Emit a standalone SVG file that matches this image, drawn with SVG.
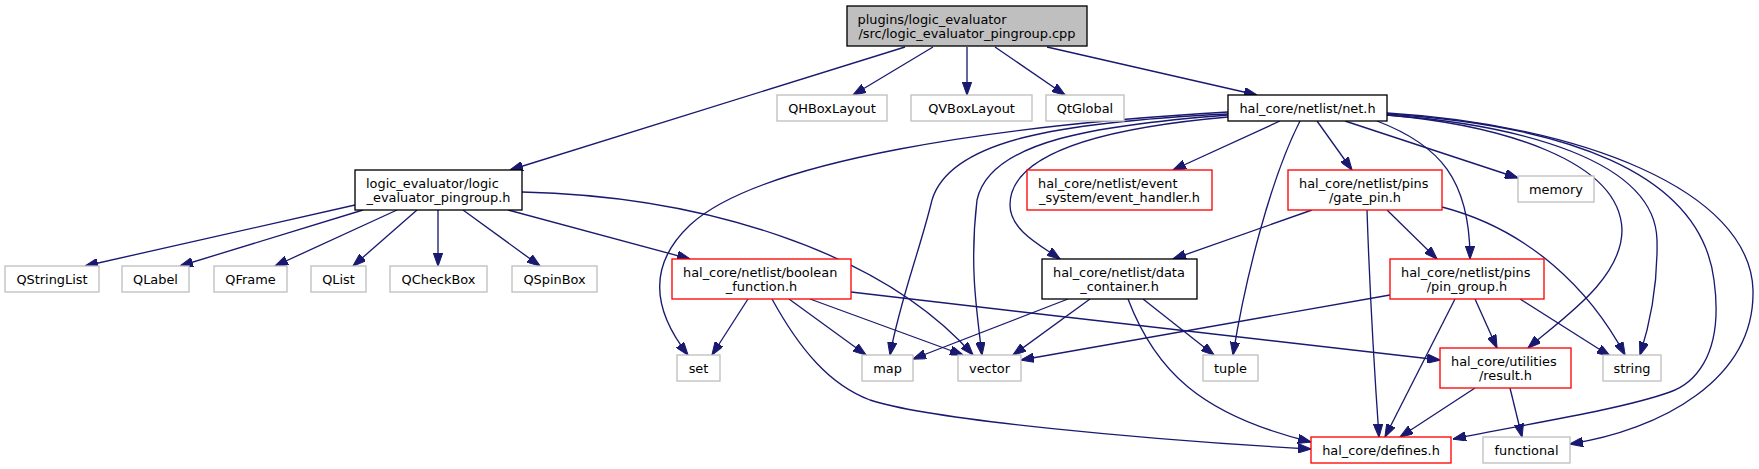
<svg xmlns="http://www.w3.org/2000/svg" width="1759" height="469" viewBox="0 0 1759 469">
<style>
rect{fill:#fff;stroke-width:1.33}
.k{stroke:#000}
.r{stroke:#ff0000}
.g{stroke:#bfbfbf}
.root{fill:#bfbfbf;stroke:#000}
text{font-family:"DejaVu Sans","Liberation Sans",sans-serif;font-size:12.9px;fill:#000}
.m{text-anchor:middle}
#edges path{fill:none;stroke:#191970;stroke-width:1.33;marker-end:url(#ah)}
</style>
<defs>
<marker id="ah" viewBox="0 0 13.3 9.4" refX="13" refY="4.7" markerWidth="13.3" markerHeight="9.4" markerUnits="userSpaceOnUse" orient="auto">
<path d="M0,0 L13.3,4.7 L0,9.4 Z" fill="#191970" stroke="#191970" stroke-width="1"/>
</marker>
</defs>
<rect width="1759" height="469" style="fill:#fff;stroke:none"/>
<g id="edges">
<path d="M905,47 L510,170"/>
<path d="M933,47 L853,95"/>
<path d="M967,47 L967,95"/>
<path d="M995,47 L1065,95"/>
<path d="M1047,47 L1257,95"/>
<path d="M355,205 L85,266"/>
<path d="M363,210 L180,266"/>
<path d="M397,210 L275,266"/>
<path d="M417,210 L353,266"/>
<path d="M438,210 L438,266"/>
<path d="M463,210 L540,266"/>
<path d="M508,210 L690,259"/>
<path d="M522,192 C700,196 880,250 973,355"/>
<path d="M1228,112 C1000,125 760,160 690,225 C655,258 645,300 688,355"/>
<path d="M1228,114 C1060,122 950,140 932,200 C920,250 900,300 890,355"/>
<path d="M1228,115 C1100,125 990,140 977,200 C970,260 975,300 982,355"/>
<path d="M1228,117 C1080,130 1010,160 1010,205 C1010,230 1040,245 1060,259"/>
<path d="M1280,121 L1173,170"/>
<path d="M1317,121 L1352,170"/>
<path d="M1300,121 C1270,180 1245,280 1233,355"/>
<path d="M1377,121 C1440,145 1470,180 1470,259"/>
<path d="M1345,121 L1518,178"/>
<path d="M1387,115 C1500,125 1620,160 1622,230 C1622,280 1560,320 1528,348"/>
<path d="M1387,115 C1520,125 1655,160 1657,240 C1658,290 1648,330 1640,355"/>
<path d="M1387,114 C1560,125 1700,170 1714,280 C1725,360 1690,385 1670,392 C1620,410 1520,425 1453,439"/>
<path d="M1387,113 C1580,125 1750,190 1753,290 C1755,380 1660,430 1570,444"/>
<path d="M1312,210 L1173,259"/>
<path d="M1387,210 L1437,259"/>
<path d="M1367,210 C1370,300 1375,380 1379,437"/>
<path d="M1442,207 C1530,230 1590,290 1625,355"/>
<path d="M1390,295 L1021,360"/>
<path d="M1455,299 L1385,437"/>
<path d="M1475,299 L1497,348"/>
<path d="M1520,299 L1610,356"/>
<path d="M1068,299 L913,359"/>
<path d="M1090,299 L1013,355"/>
<path d="M1143,299 L1214,355"/>
<path d="M1128,299 C1155,370 1200,415 1311,442"/>
<path d="M748,299 L712,355"/>
<path d="M789,299 L866,355"/>
<path d="M810,299 L963,355"/>
<path d="M772,299 C800,350 830,385 870,400 C930,420 1150,440 1311,449"/>
<path d="M851,292 C1050,315 1300,345 1440,360"/>
<path d="M1475,388 L1400,437"/>
<path d="M1510,388 L1522,437"/>
</g>
<g id="root"><rect class="root" x="847" y="6" width="240" height="40"/><text x="857.5" y="23.5">plugins/logic_evaluator</text><text class="m" x="967" y="38">/src/logic_evaluator_pingroup.cpp</text></g>
<g id="qhbox"><rect class="g" x="777" y="95" width="110" height="26"/><text class="m" x="832" y="112.5">QHBoxLayout</text></g>
<g id="qvbox"><rect class="g" x="911" y="95" width="121" height="26"/><text class="m" x="971.5" y="112.5">QVBoxLayout</text></g>
<g id="qtglobal"><rect class="g" x="1046" y="95" width="78" height="26"/><text class="m" x="1085" y="112.5">QtGlobal</text></g>
<g id="net"><rect class="k" x="1228" y="95" width="159" height="26"/><text class="m" x="1307.5" y="112.5">hal_core/netlist/net.h</text></g>
<g id="logic"><rect class="k" x="355" y="170" width="167" height="40"/><text x="366" y="187.5">logic_evaluator/logic</text><text class="m" x="438.5" y="202">_evaluator_pingroup.h</text></g>
<g id="event"><rect class="r" x="1027" y="170" width="185" height="40"/><text x="1038" y="187.5">hal_core/netlist/event</text><text class="m" x="1119.5" y="202">_system/event_handler.h</text></g>
<g id="gatepin"><rect class="r" x="1288" y="170" width="154" height="40"/><text x="1299" y="187.5">hal_core/netlist/pins</text><text class="m" x="1365" y="202">/gate_pin.h</text></g>
<g id="memory"><rect class="g" x="1518" y="176" width="76" height="26"/><text class="m" x="1556" y="193.5">memory</text></g>
<g id="qstringlist"><rect class="g" x="5" y="266" width="94" height="26"/><text class="m" x="52" y="283.5">QStringList</text></g>
<g id="qlabel"><rect class="g" x="122" y="266" width="67" height="26"/><text class="m" x="155.5" y="283.5">QLabel</text></g>
<g id="qframe"><rect class="g" x="214" y="266" width="73" height="26"/><text class="m" x="250.5" y="283.5">QFrame</text></g>
<g id="qlist"><rect class="g" x="311" y="266" width="55" height="26"/><text class="m" x="338.5" y="283.5">QList</text></g>
<g id="qcheckbox"><rect class="g" x="390" y="266" width="97" height="26"/><text class="m" x="438.5" y="283.5">QCheckBox</text></g>
<g id="qspinbox"><rect class="g" x="512" y="266" width="85" height="26"/><text class="m" x="554.5" y="283.5">QSpinBox</text></g>
<g id="boolean"><rect class="r" x="672" y="259" width="179" height="40"/><text x="683" y="276.5">hal_core/netlist/boolean</text><text class="m" x="761.5" y="291">_function.h</text></g>
<g id="datacontainer"><rect class="k" x="1042" y="259" width="155" height="40"/><text x="1053" y="276.5">hal_core/netlist/data</text><text class="m" x="1119.5" y="291">_container.h</text></g>
<g id="pingroup"><rect class="r" x="1390" y="259" width="154" height="40"/><text x="1401" y="276.5">hal_core/netlist/pins</text><text class="m" x="1467" y="291">/pin_group.h</text></g>
<g id="set"><rect class="g" x="677" y="355" width="43" height="26"/><text class="m" x="698.5" y="372.5">set</text></g>
<g id="map"><rect class="g" x="862" y="355" width="51" height="26"/><text class="m" x="887.5" y="372.5">map</text></g>
<g id="vector"><rect class="g" x="958" y="355" width="63" height="26"/><text class="m" x="989.5" y="372.5">vector</text></g>
<g id="tuple"><rect class="g" x="1203" y="355" width="55" height="26"/><text class="m" x="1230.5" y="372.5">tuple</text></g>
<g id="string"><rect class="g" x="1603" y="355" width="58" height="26"/><text class="m" x="1632" y="372.5">string</text></g>
<g id="result"><rect class="r" x="1440" y="348" width="131" height="40"/><text x="1451" y="365.5">hal_core/utilities</text><text class="m" x="1505.5" y="380">/result.h</text></g>
<g id="defines"><rect class="r" x="1311" y="437" width="140" height="26"/><text class="m" x="1381" y="454.5">hal_core/defines.h</text></g>
<g id="functional"><rect class="g" x="1483" y="437" width="87" height="26"/><text class="m" x="1526.5" y="454.5">functional</text></g>
</svg>
